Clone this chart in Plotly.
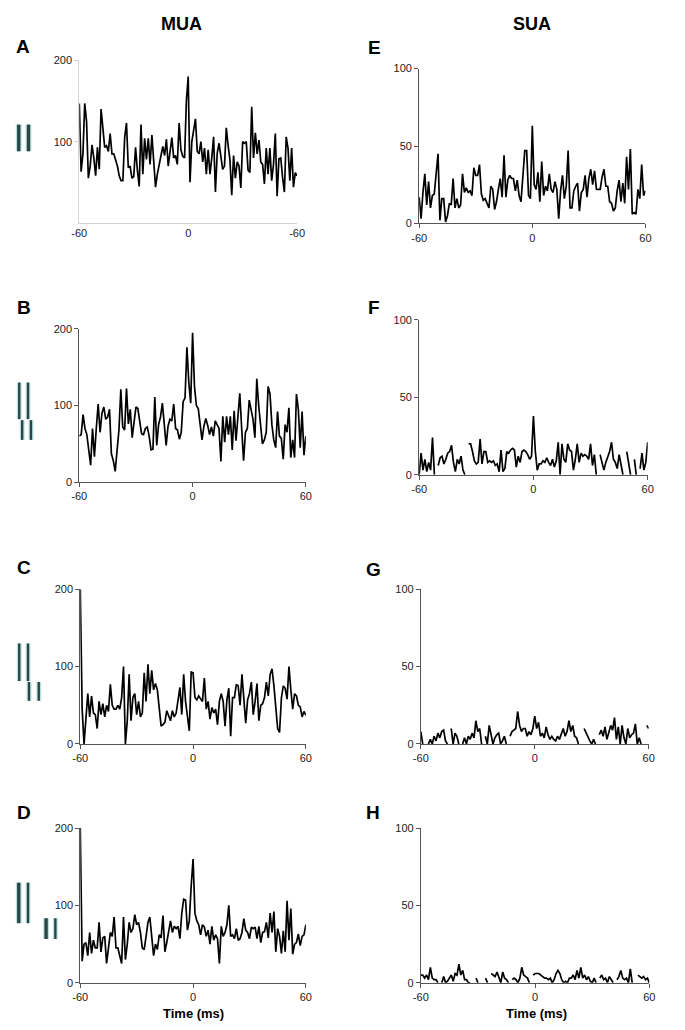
import plotly.graph_objects as go

W, H = 685, 1030

# ---------------- data (1 ms bins, -60 .. 60 ms) ----------------
TIME_MS = list(range(-60, 61))

MUA_A = [147, 63, 85, 147, 125, 55, 70, 96, 80, 58,
         93, 66, 140, 120, 93, 95, 88, 110, 85, 85,
         78, 70, 58, 52, 52, 105, 123, 68, 70, 55,
         57, 93, 65, 45, 121, 60, 104, 78, 104, 72,
         108, 80, 44, 60, 72, 80, 94, 83, 103, 70,
         92, 105, 80, 83, 72, 123, 90, 82, 80, 150,
         180,
         50, 100, 113, 128, 88, 85, 100, 75, 92, 60,
         90, 60, 80, 106, 38, 86, 98, 80, 66, 70,
         117, 95, 78, 34, 83, 55, 75, 70, 43, 100,
         98, 100, 65, 62, 143, 80, 111, 85, 102, 75,
         72, 48, 92, 60, 92, 52, 72, 110, 33, 79,
         80, 56, 38, 106, 92, 52, 92, 44, 62, 58]

MUA_B = [60, 62, 88, 70, 62, 45, 22, 70, 33, 70,
         102, 65, 90, 98, 82, 85, 95, 37, 28, 14,
         40, 68, 121, 72, 68, 122, 76, 95, 58, 78,
         98, 96, 80, 63, 62, 70, 72, 60, 42, 43,
         111, 48, 75, 85, 103, 70, 48, 73, 82, 80,
         102, 70, 68, 56, 65, 105, 110, 176, 130, 103,
         195,
         125, 100, 96, 75, 55, 73, 83, 74, 62, 72,
         60, 80, 75, 70, 27, 86, 52, 86, 62, 86,
         42, 93, 54, 80, 116, 70, 28, 65, 70, 107,
         95, 82, 58, 135, 100, 70, 50, 55, 65, 125,
         115, 75, 55, 45, 92, 60, 57, 30, 75, 65,
         97, 32, 55, 32, 115, 95, 45, 92, 35, 60]

MUA_C = [200, 45, 0, 40, 65, 35, 62, 40, 38, 20,
         55, 38, 52, 35, 50, 42, 77, 50, 45, 45,
         50, 45, 60, 100, 0, 30, 90, 30, 60, 65,
         38, 55, 35, 40, 92, 55, 103, 65, 95, 70,
         78, 70, 45, 23, 25, 28, 43, 37, 30, 43,
         35, 40, 55, 73, 38, 90, 55, 35, 17, 93,
         92,
         60, 57, 62, 58, 55, 85, 45, 55, 32, 47,
         40, 45, 25, 55, 65, 55, 23, 57, 72, 10,
         60, 60, 77, 75, 50, 90, 55, 27, 57, 65,
         80, 38, 55, 78, 30, 50, 52, 60, 80, 62,
         90, 97, 75, 50, 20, 15, 60, 75, 72, 58,
         100, 70, 45, 65, 62, 50, 48, 35, 42, 37]

MUA_D = [200, 28, 50, 52, 35, 65, 38, 55, 45, 45,
         78, 40, 58, 60, 25, 50, 65, 60, 85, 45,
         45, 35, 25, 85, 30, 50, 78, 65, 70, 88,
         75, 78, 65, 45, 43, 60, 78, 85, 55, 35,
         50, 43, 62, 58, 87, 40, 52, 65, 80, 65,
         73, 70, 73, 57, 90, 108, 107, 68, 80, 125,
         160,
         90, 80, 75, 62, 75, 72, 60, 68, 50, 73,
         55, 62, 57, 25, 73, 60, 65, 75, 100, 60,
         62, 57, 70, 55, 57, 65, 83, 68, 65, 57,
         72, 70, 72, 57, 73, 52, 65, 66, 78, 58,
         90, 65, 92, 40, 70, 60, 38, 67, 40, 106,
         55, 96, 37, 50, 52, 63, 48, 60, 62, 75]

SUA_E = [17, 3, 20, 32, 12, 27, 10, 18, 19, 33,
         45, 2, 16, 16, 1, 5, 13, 12, 29, 10,
         16, 10, 12, 32, 20, 23, 20, 21, 18, 36,
         31, 31, 38, 19, 15, 16, 13, 10, 24, 22,
         9, 14, 22, 29, 17, 44, 17, 28, 31, 29,
         29, 21, 28, 18, 14, 28, 47, 47, 18, 16,
         63,
         25, 22, 33, 14, 40, 18, 24, 21, 32, 22,
         20, 27, 22, 3, 21, 31, 16, 24, 47, 10,
         10, 21, 24, 26, 8, 20, 22, 31, 17, 29,
         35, 25, 34, 22, 22, 22, 30, 35, 24, 24,
         14, 13, 8, 10, 21, 28, 14, 26, 13, 43,
         22, 48, 6, 7, 6, 22, 16, 38, 18, 21]

SUA_F = [0, 14, 3, 10, 2, 8, 3, 24, 0, None,
         6, 11, 12, 7, 10, 14, 15, 19, 8, 2,
         10, 7, 12, 3, 0, None, 20, 20, 15, 9,
         7, 8, 23, 7, 15, 15, 8, 9, 8, 9,
         6, 7, 2, 16, 2, 4, 15, 14, 16, 17,
         16, 5, 12, 8, 15, 16, 15, 13, 10, 12,
         38,
         15, 3, 7, 7, 9, 8, 11, 8, 6, 10,
         5, 9, 21, 0, 20, 10, 8, 20, 16, 15,
         3, 10, 20, 8, 14, 12, 13, 12, 10, 20,
         6, 13, 0, None, 13, 8, 3, 8, 12, 15,
         21, 10, 8, 4, 13, 5, 0, None, 15, 6,
         0, None, 10, 0, None, 4, 14, 3, 8, 21]

SUA_G = [8, 0, None, None, 0, 3, 0, 5, 2, 7,
         4, 8, 9, 2, 0, None, 10, 0, 7, 5,
         0, None, 0, 4, 0, 5, 3, 7, 4, 15,
         8, 10, 0, None, 5, 0, 12, 7, 0, 4,
         6, 7, 0, 2, 5, 0, None, 5, 8, 9,
         10, 21, 12, 8, 10, 10, 5, 8, 6, 10,
         18,
         10, 14, 5, 7, 4, 11, 6, 3, 5, 3,
         2, 5, 3, 6, 10, 5, 8, 15, 8, 12,
         5, 4, 0, None, None, 10, 7, 5, 2, 0,
         3, 0, None, 6, 9, 5, 11, 3, 8, 12,
         9, 17, 3, 11, 0, 12, 4, 0, 10, 4,
         6, 7, 13, 0, 4, 0, None, None, 12, 10]

SUA_H = [5, 5, 3, 5, 2, 10, 3, 2, 2, 0,
         None, 0, 4, 0, 1, 3, 5, 1, 6, 5,
         12, 5, 8, 2, 2, 0, 0, None, None, 3,
         0, None, None, None, 3, 0, None, 6, 5, 4,
         7, 3, 0, 7, 3, 2, 0, None, 2, 3,
         2, 0, 3, 10, 5, 4, 3, 0, None, 5,
         6,
         6, 6, 5, 4, 3, 3, 2, 3, 0, 2,
         6, 8, 6, 2, 0, 1, 0, 3, 3, 5,
         2, 8, 3, 10, 3, 5, 2, 4, 1, 0,
         3, 0, None, 3, 5, 2, 3, 0, 4, 2,
         0, None, 2, 4, 8, 3, 2, 3, 0, 9,
         0, None, None, 5, 4, 3, 4, 2, 3, 0]

MUA_YTICKS = [0, 100, 200]
SUA_YTICKS = [0, 50, 100]
X_TICKS = [-60, 0, 60]
X_TICKTEXT = ["-60", "0", "60"]
A_X_TICKTEXT = ["-60", "0", "-60"]   # as printed in the original panel A
A_YTICKS = [100, 200]

COLUMN_TITLES = ["MUA", "SUA"]
X_TITLE = "Time (ms)"

# ---------------- layout helpers (pixel -> paper) ----------------
def px(x):
    return x / W


def py(y):
    return 1 - y / H


FONT = "Arial, Liberation Sans, sans-serif"

# panel: letter, data, x-pixel extent, y-pixel (bottom=0 , top=max), ymax, yticks, style
panels = [
    dict(letter="A", y=MUA_A, xp=(73, 296), yp=(219.5, 55), ymax=200, yticks=A_YTICKS,
         xtext=A_X_TICKTEXT, axcol="#d4d4d4", xticks=False, lpos=(15.5, 41)),
    dict(letter="B", y=MUA_B, xp=(73, 305), yp=(481.7, 326.7), ymax=200, yticks=MUA_YTICKS,
         xtext=X_TICKTEXT, axcol="#555555", xticks=True, lpos=(16, 305)),
    dict(letter="C", y=MUA_C, xp=(74, 305), yp=(746.7, 590), ymax=200, yticks=MUA_YTICKS,
         xtext=X_TICKTEXT, axcol="#555555", xticks=True, lpos=(16, 568)),
    dict(letter="D", y=MUA_D, xp=(74, 305), yp=(988.3, 831.7), ymax=200, yticks=MUA_YTICKS,
         xtext=X_TICKTEXT, axcol="#555555", xticks=True, lpos=(16, 816)),
    dict(letter="E", y=SUA_E, xp=(421, 652.7), yp=(220, 63.3), ymax=100, yticks=SUA_YTICKS,
         xtext=X_TICKTEXT, axcol="#555555", xticks=True, lpos=(375, 42)),
    dict(letter="F", y=SUA_F, xp=(421, 655), yp=(474.3, 317.7), ymax=100, yticks=SUA_YTICKS,
         xtext=X_TICKTEXT, axcol="#555555", xticks=True, lpos=(375, 305)),
    dict(letter="G", y=SUA_G, xp=(422.7, 656), yp=(746.7, 590), ymax=100, yticks=SUA_YTICKS,
         xtext=X_TICKTEXT, axcol="#555555", xticks=True, lpos=(374, 570)),
    dict(letter="H", y=SUA_H, xp=(422.7, 656.7), yp=(988.3, 831.7), ymax=100, yticks=SUA_YTICKS,
         xtext=X_TICKTEXT, axcol="#555555", xticks=True, lpos=(374, 816)),
]

fig = go.Figure()
layout = dict(
    width=W, height=H,
    margin=dict(l=0, r=0, t=0, b=0),
    paper_bgcolor="white", plot_bgcolor="white",
    showlegend=False,
    font=dict(family=FONT, color="#222222", size=11),
)

annotations = []
for i, p in enumerate(panels, start=1):
    xa = "x" if i == 1 else f"x{i}"
    ya = "y" if i == 1 else f"y{i}"
    fig.add_trace(go.Scatter(
        x=TIME_MS, y=p["y"], mode="lines", xaxis=xa, yaxis=ya,
        line=dict(color="black", width=1.7), connectgaps=False,
        hoverinfo="skip"))
    layout["xaxis" if i == 1 else f"xaxis{i}"] = dict(
        domain=[px(p["xp"][0]), px(p["xp"][1])], anchor=ya,
        range=[-60, 60], tickvals=X_TICKS, ticktext=p["xtext"],
        showgrid=False, zeroline=False, showline=True,
        linecolor=p["axcol"], linewidth=1,
        ticks="outside" if p["xticks"] else "", ticklen=4,
        tickcolor=p["axcol"], tickfont=dict(size=11, color="#222222"),
        fixedrange=True)
    layout["yaxis" if i == 1 else f"yaxis{i}"] = dict(
        domain=[py(p["yp"][0]), py(p["yp"][1])], anchor=xa,
        range=[0, p["ymax"]], tickvals=p["yticks"],
        showgrid=False, zeroline=False, showline=True,
        linecolor=p["axcol"], linewidth=1,
        ticks="outside", ticklen=4, tickcolor=p["axcol"],
        tickfont=dict(size=11, color="#222222"),
        fixedrange=True)
    annotations.append(dict(
        text=f"<b>{p['letter']}</b>", x=px(p["lpos"][0]), y=py(p["lpos"][1]),
        xref="paper", yref="paper", xanchor="center", yanchor="middle",
        showarrow=False, font=dict(size=19, family=FONT, color="black")))

# column titles
for title, cx in zip(COLUMN_TITLES, (178, 537)):
    annotations.append(dict(
        text=f"<b>{title}</b>", x=px(cx), y=py(18), xref="paper", yref="paper",
        xanchor="center", yanchor="middle", showarrow=False,
        font=dict(size=18, family=FONT, color="black")))

# x-axis titles under bottom panels
for cx in (190, 541):
    annotations.append(dict(
        text=f"<b>{X_TITLE}</b>", x=px(cx), y=py(1019), xref="paper", yref="paper",
        xanchor="center", yanchor="middle", showarrow=False,
        font=dict(size=13, family=FONT, color="black")))

# stimulus icons (grating bars) left of the MUA panels: (x0, y0, x1, y1) in pixels
ICON_BARS = [
    # A
    (8, 120, 14, 147), (18, 120, 24, 147),
    # B
    (9, 381, 14, 418), (18, 381, 23, 418), (12, 419, 17, 439), (21, 419, 26, 439),
    # C
    (9, 645, 14, 683), (18, 645, 23, 683), (19, 684, 24, 703), (29, 684, 34, 703),
    # D
    (8, 887, 14, 928), (18, 887, 23, 928), (36, 923, 42, 944), (46, 923, 51, 944),
]
shapes = []
for (x0, y0, x1, y1) in ICON_BARS:
    shapes.append(dict(type="rect", xref="paper", yref="paper",
                       x0=px(x0), x1=px(x1), y0=py(y1), y1=py(y0),
                       fillcolor="#b9e0e0", line=dict(width=0)))
    shapes.append(dict(type="rect", xref="paper", yref="paper",
                       x0=px(x0 + 1.3), x1=px(x1 - 1.3), y0=py(y1), y1=py(y0),
                       fillcolor="#2b4545", line=dict(width=0)))

layout["annotations"] = annotations
layout["shapes"] = shapes
fig.update_layout(**layout)

fig.write_html("out.html", config={"displayModeBar": False},
               post_script="document.body.style.margin='0';")
